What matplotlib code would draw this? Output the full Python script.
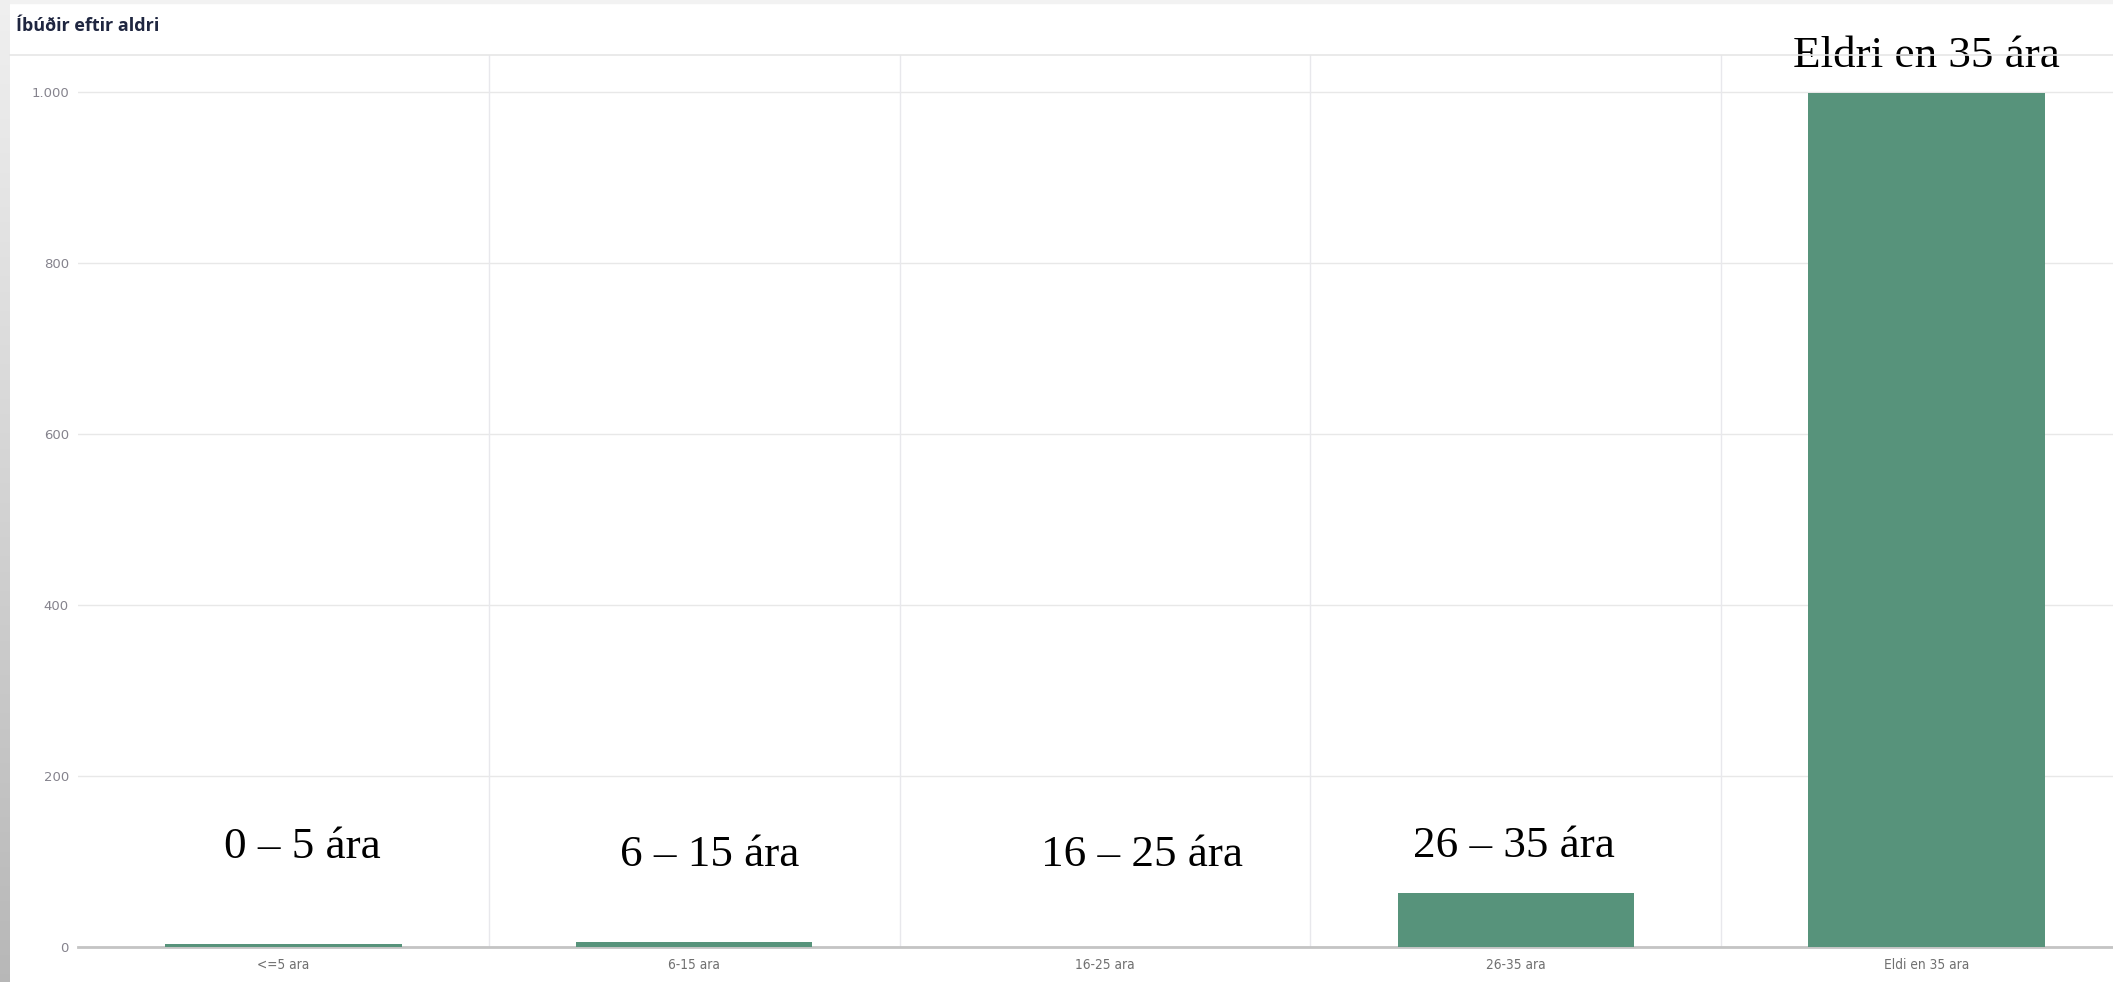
import matplotlib
matplotlib.use("Agg")
import matplotlib.pyplot as plt
import numpy as np
from matplotlib.ticker import FuncFormatter

# ---- data ----
categories = ["<=5 ara", "6-15 ara", "16-25 ara", "26-35 ara", "Eldi en 35 ara"]
values = [4, 6, 0, 63, 998]
annotations = ["0 – 5 ára", "6 – 15 ára", "16 – 25 ára", "26 – 35 ára", "Eldri en 35 ára"]
yticks = [0, 200, 400, 600, 800, 1000]
title = "Íbúðir eftir aldri"

# ---- layout (pixels in a 2113x982 figure) ----
W, H = 2113, 982
fig = plt.figure(figsize=(W / 100, H / 100), dpi=100)
fig.patch.set_facecolor("white")

ax_left, ax_right, ax_top, ax_bottom = 78, 2132, 55, 947
ax = fig.add_axes([ax_left / W, (H - ax_bottom) / H,
                   (ax_right - ax_left) / W, (ax_bottom - ax_top) / H])

bar_color = "#57937b"
x = np.arange(len(categories))
ax.bar(x, values, width=0.575, color=bar_color, zorder=3)

ax.set_xlim(-0.5, len(categories) - 0.5)
ax.set_ylim(0, 1043)
ax.set_yticks(yticks)
ax.yaxis.set_major_formatter(FuncFormatter(lambda v, p: f"{int(v):,}".replace(",", ".")))
ax.set_xticks(x)
ax.set_xticklabels(categories)

# vertical separators between categories
for b in np.arange(0.5, len(categories) - 0.5, 1.0):
    ax.axvline(b, color="#e8e8ec", lw=1.0, zorder=1)
ax.yaxis.grid(True, color="#e8e8e8", lw=1.0, zorder=1)
ax.set_axisbelow(True)

for s in ["top", "right", "left"]:
    ax.spines[s].set_visible(False)
ax.spines["bottom"].set_color("#c4c4c4")
ax.spines["bottom"].set_linewidth(2.0)

ax.tick_params(axis="both", length=0)
ax.tick_params(axis="y", pad=6.5, labelsize=9.5, labelcolor="#85838d")
ax.tick_params(axis="x", pad=8, labelsize=9.8, labelcolor="#707070")
for lbl in ax.get_xticklabels():
    lbl.set_fontfamily("DejaVu Sans")
    lbl.set_fontstretch("condensed")
for lbl in ax.get_yticklabels():
    lbl.set_fontfamily("DejaVu Sans")

# annotations (serif labels over the bars), baseline positions in data units
ann_dx = [0.047, 0.038, 0.091, -0.004, 0.0]
ann_y = [104, 95, 95, 105, 1029]
for i, t in enumerate(annotations):
    ax.text(x[i] + ann_dx[i], ann_y[i], t, ha="center", va="baseline",
            fontsize=32.5, family=["Liberation Serif", "DejaVu Serif"], color="black",
            zorder=5, clip_on=False)

# title
fig.text(16 / W, 1 - 31 / H, title, ha="left", va="baseline", fontsize=13,
         fontweight="bold", color="#1f2640", family=["Open Sans", "DejaVu Sans"])

# separator line under title
fig.add_artist(plt.Line2D([10 / W, 1], [1 - 55 / H, 1 - 55 / H],
                          color="#e6e6e6", lw=1.2, transform=fig.transFigure))

# top faint strip
fig.add_artist(plt.Rectangle((0, 1 - 3 / H), 1, 3 / H, color="#f2f2f2",
                             transform=fig.transFigure, zorder=0))

# left gray gradient strip
gax = fig.add_axes([0, 0, 10 / W, 1])
grad = np.linspace(0.94, 0.72, 256).reshape(-1, 1)
gax.imshow(np.dstack([grad, grad, grad]), aspect="auto", extent=[0, 1, 0, 1])
gax.axis("off")

fig.savefig("out.png", dpi=100, facecolor="white")
